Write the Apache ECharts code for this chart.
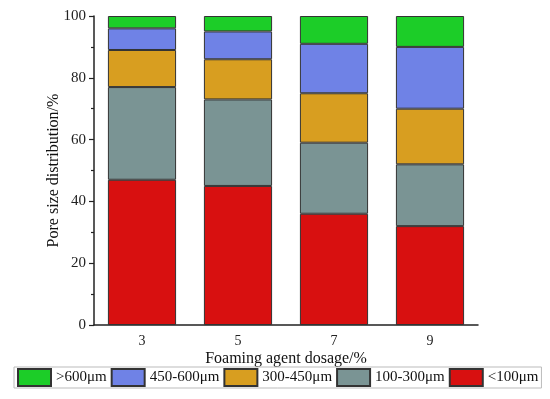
<!DOCTYPE html>
<html><head><meta charset="utf-8">
<script src="https://cdn.jsdelivr.net/npm/echarts@6/dist/echarts.min.js"></script>
<style>html,body{margin:0;padding:0;background:#fff}#c{width:550px;height:399px}</style>
</head><body><div id="c"></div>
<script>
const categories = ['3', '5', '7', '9'];
const seriesNames = ['<100μm', '100-300μm', '300-450μm', '450-600μm', '>600μm'];
const lt100 = [47, 45, 36, 32];
const s100_300 = [30, 28, 23, 20];
const s300_450 = [12, 13, 16, 18];
const s450_600 = [7, 9, 16, 20];
const gt600 = [4, 5, 9, 10];
const colors = ['#d81010', '#7a9494', '#d89e20', '#6f82e6', '#1ccd28'];
const legendOrder = ['>600μm', '450-600μm', '300-450μm', '100-300μm', '<100μm'];
const yTicks = [0, 20, 40, 60, 80, 100];

const values = [lt100, s100_300, s300_450, s450_600, gt600];
const font = 'Liberation Serif';
const chart = echarts.init(document.getElementById('c'), null, {renderer: 'canvas'});
chart.setOption({
  animation: false,
  grid: {left: 94, right: 72, top: 16, bottom: 74},
  legend: {
    data: legendOrder.map(n => ({name: n, icon: 'rect'})), left: 14, top: 367, right: 0,
    itemWidth: 33, itemHeight: 17, itemGap: 4,
    padding: [1, 3, 1, 3], borderColor: '#bbb', borderWidth: 1,
    textStyle: {fontFamily: font, fontSize: 15, color: '#111'},
    selectedMode: false
  },
  xAxis: [{
    type: 'category', data: categories,
    name: 'Foaming agent dosage/%', nameLocation: 'middle', nameGap: 26, nameMoveOverlap: false,
    nameTextStyle: {fontFamily: font, fontSize: 16, color: '#111'},
    axisLine: {lineStyle: {color: '#222', width: 1.5}},
    axisTick: {alignWithLabel: true, length: 5, lineStyle: {color: '#222', width: 1.2}},
    axisLabel: {fontFamily: font, fontSize: 14, color: '#222', margin: 9}
  }, {
    type: 'category', data: categories, position: 'bottom',
    axisLine: {show: false},
    axisTick: {length: 3, lineStyle: {color: '#222', width: 1.2}},
    axisLabel: {show: false}
  }],
  yAxis: {
    type: 'value', min: yTicks[0], max: yTicks[yTicks.length - 1], interval: 20,
    name: 'Pore size distribution/%', nameLocation: 'middle', nameGap: 32, nameMoveOverlap: false,
    nameTextStyle: {fontFamily: font, fontSize: 16, color: '#111'},
    axisLine: {show: true, lineStyle: {color: '#222', width: 1.5}},
    axisTick: {show: true, length: 5, lineStyle: {color: '#222', width: 1.2}},
    minorTick: {show: true, splitNumber: 2, length: 3, lineStyle: {color: '#222', width: 1.2}},
    axisLabel: {fontFamily: font, fontSize: 15, color: '#222', margin: 8},
    splitLine: {show: false}
  },
  series: seriesNames.map((n, i) => ({
    name: n, type: 'bar', stack: 'a', data: values[i],
    barCategoryGap: '29%',
    itemStyle: {color: colors[i], borderColor: '#333', borderWidth: 1}
  }))
});
</script></body></html>
